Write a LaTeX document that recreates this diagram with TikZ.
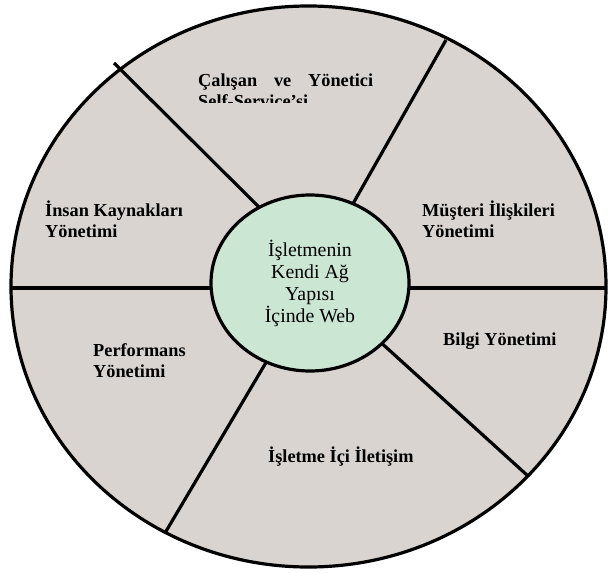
\documentclass[tikz,border=0pt]{standalone}
\usepackage{fontspec}
\setmainfont{Liberation Serif}
\usetikzlibrary{shapes.geometric}
\definecolor{sektor}{RGB}{217,212,208}
\definecolor{merkez}{RGB}{204,230,212}
\tikzset{
	dilim/.style={line width=3.2pt},
	etiket/.style={font=\bfseries\fontsize{18.3}{21}\selectfont,inner sep=0pt,align=left,anchor=base west},
	cekirdek/.style={ellipse,draw,line width=3.2pt,fill=merkez,minimum width=198pt,minimum height=176pt,
		align=center,font=\fontsize{19.8}{22}\selectfont},
}

\begin{document}
\begin{tikzpicture}[x=1pt,y=-1pt]
	\useasboundingbox (0,0) rectangle (609,572);
	\draw[dilim,fill=sektor] (308.5,286.5) ellipse [x radius=297.5,y radius=280.5];
	\coordinate (a1) at (114,63);   \coordinate (b1) at (268,216);
	\coordinate (a2) at (446,40);   \coordinate (b2) at (346,216);
	\coordinate (a3) at (11,288);   \coordinate (b3) at (606,288);
	\coordinate (a4) at (528,476);  \coordinate (b4) at (377,339);
	\coordinate (a5) at (165,533);  \coordinate (b5) at (274,349);
	\foreach \i in {1,...,5}
	\draw[dilim] (a\i) -- (b\i);
	\node[cekirdek] (web) at (310,283) {İşletmenin\\Kendi Ağ\\Yapısı\\İçinde Web};
	\begin{scope}
		\clip (150,60) rectangle (420,103);
		\node[etiket,text width=175pt] (calisan) at (198,87) {Çalışan\hfill ve\hfill Yönetici\\Self-Service’si};
	\end{scope}
	\node[etiket] (insan) at (45,237) {İnsan Kaynakları\\Yönetimi};
	\node[etiket] (musteri) at (422,237) {Müşteri İlişkileri\\Yönetimi};
	\node[etiket] (bilgi) at (443,345) {Bilgi Yönetimi};
	\node[etiket] (perf) at (93,377) {Performans\\Yönetimi};
	\node[etiket] (iletisim) at (268,462) {İşletme İçi İletişim};
\end{tikzpicture}
\end{document}
